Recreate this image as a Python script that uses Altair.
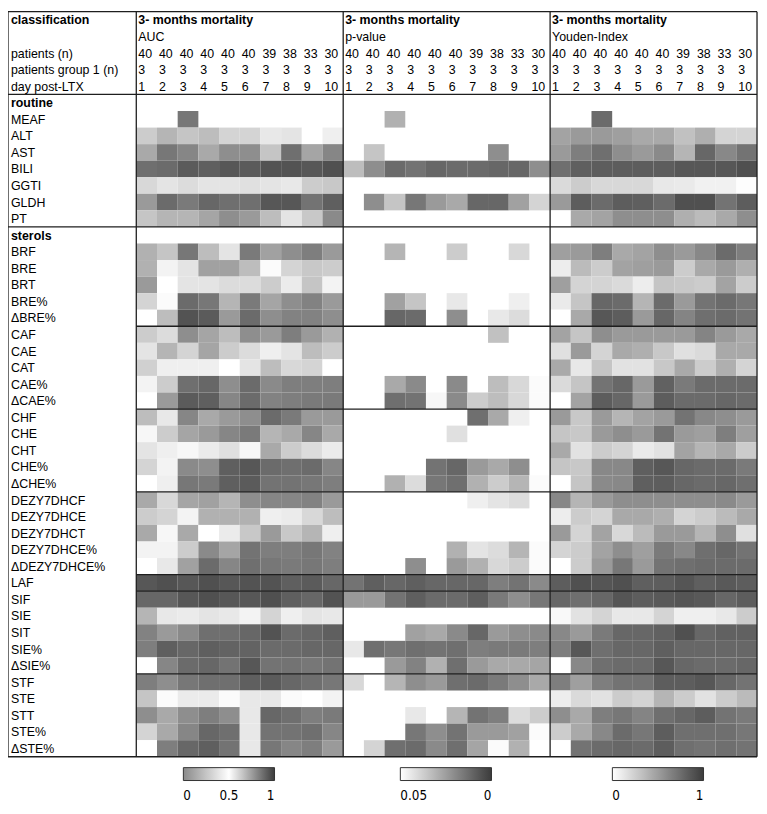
import altair as alt
import pandas as pd

# ---------------- data ----------------
row_labels = ["routine", "MEAF", "ALT", "AST", "BILI", "GGTI", "GLDH", "PT",
              "sterols", "BRF", "BRE", "BRT", "BRE%", "ΔBRE%",
              "CAF", "CAE", "CAT", "CAE%", "ΔCAE%",
              "CHF", "CHE", "CHT", "CHE%", "ΔCHE%",
              "DEZY7DHCF", "DEZY7DHCE", "DEZY7DHCT", "DEZY7DHCE%", "ΔDEZY7DHCE%",
              "LAF", "SIF", "SIE", "SIT", "SIE%", "ΔSIE%",
              "STF", "STE", "STT", "STE%", "ΔSTE%"]
section_rows = ["routine", "sterols"]

top_title = "3- months mortality"
panel_titles = ["AUC", "p-value", "Youden-Index"]
header_labels = ["patients (n)", "patients group 1 (n)", "day post-LTX"]
patients_n = [40, 40, 40, 40, 40, 40, 39, 38, 33, 30]
patients_g1 = [3, 3, 3, 3, 3, 3, 3, 3, 3, 3]
day_post_ltx = [1, 2, 3, 4, 5, 6, 7, 8, 9, 10]

N = None
auc = {
    "MEAF": [N, N, 0.85, N, N, N, N, N, N, N],
    "ALT": [0.63, 0.69, 0.65, 0.67, 0.61, 0.61, 0.56, 0.57, 0.50, 0.54],
    "AST": [0.72, 0.85, 0.81, 0.72, 0.79, 0.79, 0.65, 0.87, 0.73, 0.81],
    "BILI": [0.87, 0.88, 0.92, 0.91, 0.93, 0.92, 0.94, 0.94, 0.93, 0.95],
    "GGTI": [0.60, 0.57, 0.59, 0.57, 0.57, 0.58, 0.57, 0.56, 0.63, 0.64],
    "GLDH": [0.76, 0.88, 0.84, 0.89, 0.87, 0.87, 0.93, 0.93, 0.86, 0.91],
    "PT": [0.65, 0.69, 0.69, 0.73, 0.79, 0.76, 0.67, 0.57, 0.64, 0.80],
    "BRF": [0.70, 0.65, 0.85, 0.67, 0.57, 0.84, 0.74, 0.79, 0.83, 0.76],
    "BRE": [0.70, 0.53, 0.57, 0.74, 0.74, 0.67, 0.51, 0.61, 0.64, 0.63],
    "BRT": [0.76, 0.50, 0.57, 0.57, 0.59, 0.59, 0.63, 0.55, 0.65, 0.53],
    "BRE%": [0.61, 0.51, 0.88, 0.85, 0.69, 0.84, 0.73, 0.79, 0.82, 0.76],
    "ΔBRE%": [0.50, 0.67, 0.94, 0.92, 0.76, 0.88, 0.79, 0.82, 0.82, 0.79],
    "CAF": [0.63, 0.59, 0.79, 0.73, 0.67, 0.79, 0.76, 0.83, 0.76, 0.70],
    "CAE": [0.57, 0.69, 0.61, 0.73, 0.63, 0.59, 0.54, 0.57, 0.67, 0.63],
    "CAT": [0.62, 0.54, 0.54, 0.54, 0.50, 0.57, 0.67, 0.60, 0.61, 0.50],
    "CAE%": [0.53, 0.63, 0.87, 0.89, 0.79, 0.88, 0.80, 0.83, 0.83, 0.83],
    "ΔCAE%": [0.50, 0.76, 0.92, 0.91, 0.81, 0.88, 0.82, 0.83, 0.84, 0.84],
    "CHF": [0.67, 0.56, 0.81, 0.72, 0.76, 0.79, 0.88, 0.84, 0.76, 0.76],
    "CHE": [0.52, 0.63, 0.73, 0.76, 0.81, 0.84, 0.69, 0.72, 0.81, 0.72],
    "CHT": [0.57, 0.54, 0.52, 0.55, 0.58, 0.52, 0.72, 0.63, 0.59, 0.55],
    "CHE%": [0.61, 0.53, 0.80, 0.79, 0.91, 0.93, 0.88, 0.87, 0.88, 0.81],
    "ΔCHE%": [0.50, 0.54, 0.85, 0.84, 0.91, 0.92, 0.86, 0.86, 0.85, 0.83],
    "DEZY7DHCF": [0.72, 0.60, 0.73, 0.74, 0.69, 0.79, 0.81, 0.81, 0.82, 0.76],
    "DEZY7DHCE": [0.63, 0.61, 0.53, 0.70, 0.70, 0.70, 0.54, 0.55, 0.60, 0.67],
    "DEZY7DHCT": [0.72, 0.52, 0.72, 0.50, 0.55, 0.64, 0.76, 0.64, 0.69, 0.54],
    "DEZY7DHCE%": [0.53, 0.53, 0.63, 0.80, 0.73, 0.86, 0.83, 0.83, 0.85, 0.82],
    "ΔDEZY7DHCE%": [0.50, 0.56, 0.74, 0.88, 0.81, 0.87, 0.85, 0.84, 0.85, 0.83],
    "LAF": [0.93, 0.95, 0.93, 0.95, 0.93, 0.94, 0.94, 0.91, 0.92, 0.89],
    "SIF": [0.89, 0.89, 0.93, 0.95, 0.93, 0.93, 0.95, 0.91, 0.89, 0.94],
    "SIE": [0.69, 0.56, 0.55, 0.57, 0.56, 0.53, 0.61, 0.54, 0.57, 0.56],
    "SIT": [0.82, 0.76, 0.80, 0.87, 0.87, 0.89, 0.94, 0.88, 0.89, 0.91],
    "SIE%": [0.83, 0.91, 0.89, 0.91, 0.90, 0.90, 0.88, 0.88, 0.89, 0.89],
    "ΔSIE%": [0.50, 0.81, 0.88, 0.89, 0.86, 0.93, 0.86, 0.86, 0.85, 0.86],
    "STF": [0.83, 0.79, 0.85, 0.87, 0.87, 0.91, 0.92, 0.89, 0.87, 0.85],
    "STE": [0.65, 0.51, 0.55, 0.55, 0.51, 0.56, 0.56, 0.51, 0.50, 0.53],
    "STT": [0.79, 0.72, 0.79, 0.83, 0.79, 0.56, 0.89, 0.87, 0.83, 0.84],
    "STE%": [0.61, 0.72, 0.81, 0.89, 0.87, 0.56, 0.86, 0.86, 0.87, 0.81],
    "ΔSTE%": [0.50, 0.83, 0.89, 0.91, 0.86, 0.56, 0.85, 0.81, 0.83, 0.76],
}

pval = {
    "MEAF": [N, N, 0.030, N, N, N, N, N, N, N],
    "ALT": [N, N, N, N, N, N, N, N, N, N],
    "AST": [N, 0.035, N, N, N, N, N, 0.021, N, N],
    "BILI": [0.033, 0.021, 0.012, 0.014, 0.011, 0.012, 0.012, 0.011, 0.011, 0.021],
    "GGTI": [N, N, N, N, N, N, N, N, N, N],
    "GLDH": [N, 0.021, 0.035, 0.015, 0.024, 0.028, 0.011, 0.011, 0.026, 0.039],
    "PT": [N, N, N, N, N, N, N, N, N, N],
    "BRF": [N, N, 0.031, N, N, 0.037, N, N, 0.040, N],
    "BRE": [N, N, N, N, N, N, N, N, N, N],
    "BRT": [N, N, N, N, N, N, N, N, N, N],
    "BRE%": [N, N, 0.026, 0.035, N, 0.044, N, N, 0.046, N],
    "ΔBRE%": [N, N, 0.011, 0.012, N, 0.021, N, 0.044, 0.041, N],
    "CAF": [N, N, N, N, N, N, N, 0.034, N, N],
    "CAE": [N, N, N, N, N, N, N, N, N, N],
    "CAT": [N, N, N, N, N, N, N, N, N, N],
    "CAE%": [N, N, 0.028, 0.020, N, 0.020, N, 0.033, 0.040, 0.049],
    "ΔCAE%": [N, N, 0.013, 0.014, 0.048, 0.020, 0.037, 0.033, 0.040, 0.049],
    "CHF": [N, N, N, N, N, N, 0.013, 0.028, 0.046, N],
    "CHE": [N, N, N, N, N, 0.042, N, N, N, N],
    "CHT": [N, N, N, N, N, N, N, N, N, N],
    "CHE%": [N, N, N, N, 0.014, 0.011, 0.024, 0.028, 0.021, N],
    "ΔCHE%": [N, N, 0.030, 0.041, 0.015, 0.013, 0.030, 0.037, 0.031, 0.049],
    "DEZY7DHCF": [N, N, N, N, N, N, 0.046, 0.043, 0.041, N],
    "DEZY7DHCE": [N, N, N, N, N, N, N, N, N, N],
    "DEZY7DHCT": [N, N, N, N, N, N, N, N, N, N],
    "DEZY7DHCE%": [N, N, N, N, N, 0.030, 0.043, 0.041, 0.031, 0.049],
    "ΔDEZY7DHCE%": [N, N, N, 0.021, N, 0.024, 0.030, 0.040, 0.037, 0.049],
    "LAF": [0.014, 0.009, 0.011, 0.009, 0.011, 0.011, 0.011, 0.017, 0.014, 0.020],
    "SIF": [0.024, 0.024, 0.014, 0.009, 0.012, 0.012, 0.009, 0.016, 0.021, 0.015],
    "SIE": [N, N, N, N, N, N, N, N, N, N],
    "SIT": [N, N, N, 0.026, 0.028, 0.020, 0.011, 0.024, 0.021, 0.020],
    "SIE%": [0.044, 0.013, 0.015, 0.013, 0.014, 0.013, 0.017, 0.016, 0.016, 0.017],
    "ΔSIE%": [N, N, 0.024, 0.018, 0.030, 0.013, 0.024, 0.028, 0.028, 0.027],
    "STF": [0.040, N, 0.031, 0.021, 0.024, 0.013, 0.012, 0.016, 0.021, 0.028],
    "STE": [N, N, N, N, N, N, N, N, N, N],
    "STT": [N, N, N, 0.044, N, 0.031, 0.014, 0.017, 0.041, 0.037],
    "STE%": [N, N, N, 0.015, 0.021, 0.014, 0.024, 0.024, 0.026, 0.049],
    "ΔSTE%": [N, 0.039, 0.013, 0.012, 0.020, 0.013, 0.027, 0.049, 0.030, N],
}

youden = {
    "MEAF": [N, N, 0.76, N, N, N, N, N, N, N],
    "ALT": [0.47, 0.52, 0.52, 0.49, 0.44, 0.44, 0.32, 0.41, 0.22, 0.22],
    "AST": [0.52, 0.66, 0.74, 0.58, 0.52, 0.60, 0.38, 0.78, 0.61, 0.72],
    "BILI": [0.74, 0.82, 0.83, 0.83, 0.83, 0.83, 0.86, 0.86, 0.86, 0.90],
    "GGTI": [0.19, 0.26, 0.20, 0.20, 0.20, 0.12, 0.11, 0.07, 0.07, 0.01],
    "GLDH": [0.52, 0.83, 0.76, 0.83, 0.82, 0.76, 0.90, 0.90, 0.72, 0.83],
    "PT": [0.00, 0.44, 0.47, 0.58, 0.58, 0.58, 0.41, 0.35, 0.44, 0.58],
    "BRF": [0.49, 0.52, 0.66, 0.44, 0.47, 0.58, 0.52, 0.61, 0.76, 0.66],
    "BRE": [0.09, 0.35, 0.26, 0.47, 0.49, 0.52, 0.26, 0.44, 0.52, 0.41],
    "BRT": [0.49, 0.22, 0.22, 0.19, 0.09, 0.30, 0.28, 0.26, 0.47, 0.26],
    "BRE%": [0.11, 0.30, 0.78, 0.76, 0.38, 0.76, 0.52, 0.72, 0.76, 0.70],
    "ΔBRE%": [0.00, 0.44, 0.86, 0.83, 0.52, 0.78, 0.63, 0.74, 0.76, 0.72],
    "CAF": [0.47, 0.30, 0.58, 0.52, 0.52, 0.52, 0.52, 0.63, 0.52, 0.44],
    "CAE": [0.16, 0.52, 0.22, 0.44, 0.41, 0.28, 0.16, 0.19, 0.44, 0.44],
    "CAT": [0.44, 0.12, 0.30, 0.15, 0.15, 0.28, 0.44, 0.26, 0.41, 0.22],
    "CAE%": [0.19, 0.30, 0.72, 0.78, 0.52, 0.81, 0.68, 0.76, 0.76, 0.76],
    "ΔCAE%": [0.00, 0.47, 0.83, 0.78, 0.52, 0.83, 0.76, 0.76, 0.78, 0.76],
    "CHF": [0.52, 0.28, 0.52, 0.38, 0.47, 0.52, 0.72, 0.61, 0.58, 0.52],
    "CHE": [0.30, 0.28, 0.52, 0.58, 0.52, 0.72, 0.52, 0.49, 0.66, 0.49],
    "CHT": [0.44, 0.15, 0.26, 0.22, 0.11, 0.15, 0.47, 0.38, 0.44, 0.26],
    "CHE%": [0.30, 0.28, 0.61, 0.61, 0.82, 0.86, 0.78, 0.76, 0.76, 0.68],
    "ΔCHE%": [0.00, 0.30, 0.60, 0.61, 0.82, 0.83, 0.78, 0.76, 0.78, 0.74],
    "DEZY7DHCF": [0.61, 0.38, 0.52, 0.58, 0.58, 0.58, 0.58, 0.58, 0.60, 0.52],
    "DEZY7DHCE": [0.09, 0.26, 0.22, 0.44, 0.44, 0.41, 0.22, 0.26, 0.35, 0.44],
    "DEZY7DHCT": [0.52, 0.22, 0.47, 0.20, 0.35, 0.52, 0.52, 0.38, 0.58, 0.16],
    "DEZY7DHCE%": [0.22, 0.26, 0.47, 0.58, 0.49, 0.68, 0.61, 0.74, 0.78, 0.72],
    "ΔDEZY7DHCE%": [0.00, 0.26, 0.52, 0.70, 0.52, 0.72, 0.74, 0.76, 0.76, 0.76],
    "LAF": [0.83, 0.90, 0.87, 0.90, 0.82, 0.83, 0.87, 0.82, 0.85, 0.83],
    "SIF": [0.78, 0.74, 0.78, 0.87, 0.83, 0.85, 0.87, 0.85, 0.78, 0.83],
    "SIE": [0.03, 0.15, 0.22, 0.12, 0.12, 0.22, 0.08, 0.08, 0.12, 0.26],
    "SIT": [0.61, 0.52, 0.68, 0.78, 0.78, 0.81, 0.90, 0.78, 0.81, 0.81],
    "SIE%": [0.66, 0.86, 0.74, 0.78, 0.78, 0.82, 0.78, 0.78, 0.78, 0.78],
    "ΔSIE%": [0.00, 0.61, 0.74, 0.76, 0.76, 0.86, 0.78, 0.76, 0.76, 0.78],
    "STF": [0.66, 0.49, 0.66, 0.72, 0.72, 0.83, 0.83, 0.86, 0.78, 0.72],
    "STE": [0.09, 0.19, 0.15, 0.26, 0.22, 0.38, 0.26, 0.15, 0.26, 0.35],
    "STT": [0.58, 0.44, 0.66, 0.70, 0.63, 0.74, 0.78, 0.83, 0.72, 0.68],
    "STE%": [0.26, 0.44, 0.61, 0.76, 0.70, 0.83, 0.74, 0.74, 0.74, 0.70],
    "ΔSTE%": [0.00, 0.72, 0.76, 0.78, 0.76, 0.83, 0.74, 0.72, 0.74, 0.72],
}

# ---------------- layout ----------------
FONT = "Liberation Sans, Arial, sans-serif"
NARROW = "Liberation Sans Narrow, Arial Narrow, DejaVu Sans Condensed, sans-serif"
FS = 12.5
DARK = "#3c3c3c"
LINE = "#1e1e1e"
LABEL_W = 6.2           # width of the label column in cell units
N_HEAD = 5              # header rows
N_ROWS = N_HEAD + len(row_labels)
W = 756
TABLE_H = 752
H = 798
ROW_PX = TABLE_H / N_ROWS
Y_MAX = H / ROW_PX
LEG_Y = 763

xs = alt.Scale(domain=[-LABEL_W, 30], nice=False, zero=False)
ys = alt.Scale(domain=[0, Y_MAX], nice=False, zero=False, reverse=True)

# ---------------- cells ----------------
def cells(data, p):
    rec = []
    for r, lab in enumerate(row_labels):
        if lab in section_rows:
            continue
        for c, v in enumerate(data[lab]):
            if v is None:
                continue
            rec.append({"row": lab, "day": c + 1, "value": v,
                        "x0": 10 * p + c, "x1": 10 * p + c + 1,
                        "y0": N_HEAD + r, "y1": N_HEAD + r + 1})
    return pd.DataFrame(rec)


def legend(x, values):
    return alt.Legend(type="gradient", orient="none", legendX=x, legendY=LEG_Y,
                      direction="horizontal",
                      title=None, values=values, format="~g",
                      gradientLength=92, gradientThickness=13,
                      gradientStrokeColor="#333", gradientStrokeWidth=1,
                      labelFont=NARROW, labelFontSize=13.5, labelColor="#000",
                      labelAlign="center", labelOffset=9, padding=0)


scales = [
    alt.Scale(domain=[0, 0.5, 1], range=["#8a8a8a", "#ffffff", DARK], interpolate="rgb", clamp=True),
    alt.Scale(domain=[0.05, 0], range=["#ffffff", DARK], interpolate="rgb", clamp=True),
    alt.Scale(domain=[0, 1], range=["#ffffff", DARK], interpolate="rgb", clamp=True),
]
legends = [legend(177, [0, 0.5, 1]), legend(396, [0.05, 0]), legend(610, [0, 1])]
names = ["AUC", "p-value", "Youden-Index"]

cell_layers = []
for p, data in enumerate([auc, pval, youden]):
    df = cells(data, p)
    cell_layers.append(
        alt.Chart(df).mark_rect().encode(
            x=alt.X("x0:Q", scale=xs, axis=None),
            x2="x1:Q",
            y=alt.Y("y0:Q", scale=ys, axis=None),
            y2="y1:Q",
            color=alt.Color("value:Q", scale=scales[p], legend=legends[p], title=names[p]),
            tooltip=["row:N", "day:Q", "value:Q"],
        )
    )

# ---------------- text ----------------
lab_norm, lab_bold, pan_norm, pan_bold = [], [], [], []
lab_bold.append({"x": -LABEL_W, "y": 0.5, "t": "classification"})
for i, h in enumerate(header_labels):
    lab_norm.append({"x": -LABEL_W, "y": 2.5 + i, "t": h})
for r, lab in enumerate(row_labels):
    item = {"x": -LABEL_W, "y": N_HEAD + r + 0.5, "t": lab}
    (lab_bold if lab in section_rows else lab_norm).append(item)
for p in range(3):
    pan_bold.append({"x": 10 * p, "y": 0.5, "t": top_title})
    pan_norm.append({"x": 10 * p, "y": 1.5, "t": panel_titles[p]})
    for c in range(10):
        pan_norm.append({"x": 10 * p + c, "y": 2.5, "t": str(patients_n[c])})
        pan_norm.append({"x": 10 * p + c, "y": 3.5, "t": str(patients_g1[c])})
        pan_norm.append({"x": 10 * p + c, "y": 4.5, "t": str(day_post_ltx[c])})


def text_layer(items, dx, weight):
    return alt.Chart(pd.DataFrame(items)).mark_text(
        align="left", baseline="middle", dx=dx, dy=0.5, font=FONT, fontSize=FS,
        fontWeight=weight, color="#000"
    ).encode(
        x=alt.X("x:Q", scale=xs, axis=None),
        y=alt.Y("y:Q", scale=ys, axis=None),
        text="t:N",
    )


texts = [text_layer(lab_norm, 3, "normal"), text_layer(lab_bold, 3, "bold"),
         text_layer(pan_norm, 2, "normal"), text_layer(pan_bold, 2, "bold")]

# ---------------- grid lines ----------------
full_h = [0, N_HEAD, N_HEAD + 8, N_ROWS]
group_h = [N_HEAD + 14, N_HEAD + 19, N_HEAD + 24, N_HEAD + 29, N_HEAD + 30, N_HEAD + 35]
vert = [-LABEL_W, 0, 10, 20, 30]
seg = []
for y in full_h:
    seg.append({"x": -LABEL_W, "x2": 30, "y": y, "y2": y})
for y in group_h:
    seg.append({"x": 0, "x2": 30, "y": y, "y2": y})
for x in vert:
    seg.append({"x": x, "x2": x, "y": 0, "y2": N_ROWS})
lines = alt.Chart(pd.DataFrame(seg)).mark_rule(color=LINE, strokeWidth=1.3).encode(
    x=alt.X("x:Q", scale=xs, axis=None), x2="x2:Q",
    y=alt.Y("y:Q", scale=ys, axis=None), y2="y2:Q",
)

chart = alt.layer(*cell_layers, lines, *texts).resolve_scale(
    color="independent"
).properties(
    width=W, height=H,
    padding={"left": 0, "top": 0, "right": 2, "bottom": 0},
    autosize=alt.AutoSizeParams(type="none"),
).configure_view(stroke=None)

chart.save("out.html", embed_options={"renderer": "svg", "actions": False})
